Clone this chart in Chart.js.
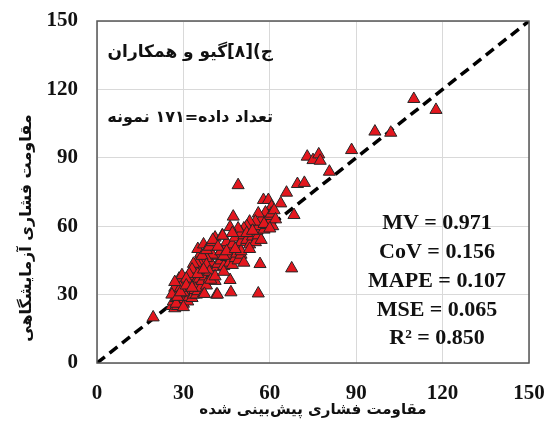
<!DOCTYPE html>
<html lang="fa">
<head>
<meta charset="utf-8">
<title>مقاومت فشاری</title>
<script src="https://cdn.jsdelivr.net/npm/chart.js@4/dist/chart.umd.min.js"></script>
<style>
  html, body { margin: 0; padding: 0; background: #fff; }
  #wrap { position: relative; width: 550px; height: 422px; }
</style>
</head>
<body>
<div id="wrap"><canvas id="chart"></canvas></div>
<script>
// predicted strength (x) and lab strength (y)
const predicted = [
  110, 117.7, 96.5, 102, 88.4, 73, 75, 77, 77.5, 80.7,
  49, 69.6, 72, 65.8, 63.8, 57.8, 59.5, 60.6, 68.4, 47.3, 19.5,
  26, 27, 28, 26.5, 27.5, 28, 29, 29.5, 30, 30.5,
  31, 31.5, 28, 28.5, 29.5, 30, 30.5, 31.5, 32, 32.5,
  33, 33.5, 34, 34.5, 35, 27, 26, 32, 33, 34,
  35, 35.5, 36, 36.5, 37, 37.5, 38, 38.5, 39, 40,
  41, 41.5, 40.5, 39.5, 42, 43, 44, 45, 46, 46.5,
  47, 48, 48.5, 49, 50, 51, 42, 40, 38, 37,
  36, 35, 34.5, 33.5, 36, 35, 37, 36.5, 38, 39,
  40, 41, 43.5, 44.5, 43, 45, 46, 47, 48, 49,
  50, 51, 52, 53, 54, 55, 56, 57, 55.5, 52.9,
  54, 56, 57.5, 58, 59, 60, 61, 59.5, 58.5, 57,
  56, 60.5, 61.5, 62, 55, 53, 52, 51, 50, 49,
  46.2, 43.6, 40.2, 44, 50, 53, 47, 42, 38, 39,
  33, 32, 31, 30, 29, 27.5, 46.2, 46.5, 41.8, 37.3,
  39.5, 41, 44, 56.6, 67.6, 56,
  28, 29, 31, 33, 35, 37, 45, 48, 52, 54, 58, 60, 30, 27
];
const measured = [
  115.8, 111, 101.5, 101, 93.4, 90.5, 89, 91.5, 88.7, 83.9,
  78, 78.5, 79, 74.7, 70, 71.5, 71.5, 68.6, 64.9, 64.2, 20,
  25, 24, 25, 27, 28.5, 31, 27, 29, 26, 28,
  30.5, 27, 35, 37, 38.5, 33, 35.5, 33, 29, 31,
  28.5, 30, 32, 30, 31.5, 33, 30, 36, 38, 35,
  34, 37, 33, 36, 30.5, 38, 34, 41, 37, 38.5,
  36, 30, 42, 44, 43.5, 45, 42.5, 46.5, 44, 47.5,
  43, 46, 48, 45, 47.5, 44, 47, 47.5, 46, 44,
  43, 42, 44, 43.5, 48, 50, 52, 47, 49.5, 51,
  53, 55, 56, 51, 49, 53, 50, 52, 55, 51,
  53, 56, 54, 52, 55.5, 53, 56, 54, 58, 58.6,
  60, 60, 62, 58.5, 60.5, 62, 60, 64.5, 66, 63,
  65.6, 65.5, 67, 63, 62, 62, 60, 59, 57, 59,
  59.6, 55.8, 54, 47, 49, 50, 57, 51, 43, 40,
  41, 39, 37, 31, 33, 26, 36.4, 31, 30, 30.3,
  36.5, 38, 40, 43.4, 41.5, 30.5,
  29, 31, 34, 33, 39, 41, 49, 50, 57, 58, 61, 59, 24.5, 35.5
];
const tickValues = [0, 30, 60, 90, 120, 150];
const statLines = ["MV = 0.971", "CoV = 0.156", "MAPE = 0.107", "MSE = 0.065", "R² = 0.850"];
const captionLines = ["ج)[۸]گیو و همکاران", "تعداد داده=۱۷۱ نمونه"];
const xTitle = "مقاومت فشاری پیش‌بینی شده";
const yTitle = "مقاومت فشاری آزمایشگاهی";

const SERIF = "'Liberation Serif', 'Times New Roman', serif";
const PERSIAN = "'DejaVu Sans', sans-serif";

function buildPoints() {
  return predicted.map((x, i) => ({ x, y: measured[i] }));
}

// let the labels hang over the edges instead of shrinking the plot
function dropEdgePadding(scale) {
  scale.paddingLeft = 0;
  scale.paddingRight = 0;
  scale.paddingTop = 0;
  scale.paddingBottom = 0;
}

// frame, captions, stats and axis titles
const overlayPlugin = {
  id: "overlay",
  afterDraw(chart) {
    const { ctx, chartArea } = chart;
    ctx.save();

    ctx.strokeStyle = "#555";
    ctx.lineWidth = 1.5;
    ctx.strokeRect(chartArea.left, chartArea.top, chartArea.width, chartArea.height);

    ctx.fillStyle = "#111";
    ctx.direction = "rtl";
    ctx.textAlign = "right";
    ctx.textBaseline = "middle";
    ctx.font = "bold 17px " + PERSIAN;
    ctx.fillText(captionLines[0], 273, 53);
    ctx.font = "bold 16px " + PERSIAN;
    ctx.fillText(captionLines[1], 273, 118);

    ctx.textAlign = "center";
    ctx.font = "bold 15px " + PERSIAN;
    ctx.fillText(xTitle, (chartArea.left + chartArea.right) / 2, 410);

    ctx.save();
    ctx.translate(27, 228);
    ctx.rotate(-Math.PI / 2);
    ctx.font = "bold 16px " + PERSIAN;
    ctx.fillText(yTitle, 0, 0);
    ctx.restore();

    ctx.direction = "ltr";
    ctx.font = "bold 22px " + SERIF;
    const rows = [223, 252, 281, 310, 338];
    statLines.forEach((line, i) => {
      ctx.fillText(line, 437, rows[i]);
    });

    ctx.restore();
  },
};

function init() {
  const ctx = document.getElementById("chart");

  new Chart(ctx, {
    type: "scatter",
    data: {
      datasets: [
        {
          label: "points",
          data: buildPoints(),
          pointStyle: "triangle",
          pointRadius: 7,
          pointBackgroundColor: "#e3171e",
          pointBorderColor: "#262626",
          pointBorderWidth: 1,
          order: 1,
        },
        {
          type: "line",
          label: "1:1",
          data: [{ x: 0, y: 0 }, { x: 150, y: 150 }],
          borderColor: "#000",
          borderWidth: 3.5,
          borderDash: [10, 6],
          pointRadius: 0,
          fill: false,
          order: 2,
        },
      ],
    },
    options: {
      responsive: true,
      maintainAspectRatio: false,
      animation: false,
      layout: { padding: { top: 21, right: 21, left: 0, bottom: 0 } },
      plugins: {
        legend: { display: false },
        tooltip: { enabled: false },
      },
      scales: {
        x: {
          type: "linear",
          min: 0,
          max: 150,
          afterBuildTicks: (scale) => {
            scale.ticks = tickValues.map((v) => ({ value: v }));
          },
          afterFit: (scale) => {
            scale.height = 59;
            dropEdgePadding(scale);
          },
          grid: { color: "#d9d9d9", lineWidth: 1, drawTicks: false },
          border: { display: false },
          ticks: {
            padding: 18,
            color: "#111",
            font: { family: SERIF, size: 21, weight: "bold" },
          },
        },
        y: {
          type: "linear",
          min: 0,
          max: 150,
          afterBuildTicks: (scale) => {
            scale.ticks = tickValues.map((v) => ({ value: v }));
          },
          afterFit: (scale) => {
            scale.width = 97;
            dropEdgePadding(scale);
          },
          grid: { color: "#d9d9d9", lineWidth: 1, drawTicks: false },
          border: { display: false },
          ticks: {
            padding: 19,
            color: "#111",
            font: { family: SERIF, size: 21, weight: "bold" },
          },
        },
      },
    },
    plugins: [overlayPlugin],
  });
}

document.addEventListener("DOMContentLoaded", init);
</script>
</body>
</html>
